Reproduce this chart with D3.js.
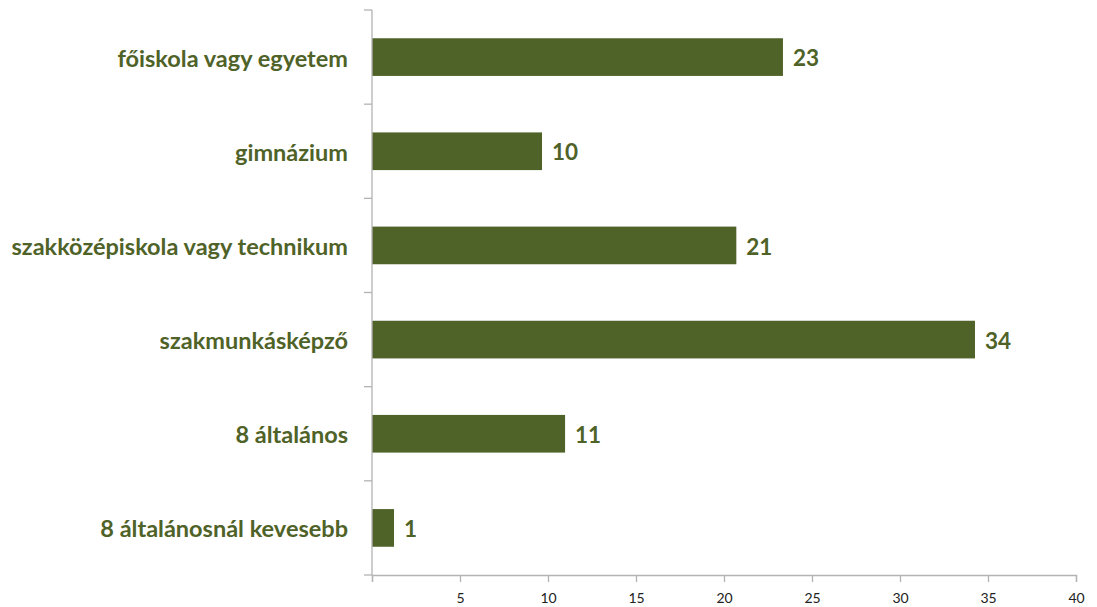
<!DOCTYPE html>
<html>
<head>
<meta charset="utf-8">
<script src="https://cdn.jsdelivr.net/npm/d3@7"></script>
<style>
  body { margin: 0; background: #fff; }
  svg { display: block; }
</style>
</head>
<body>
<div id="chart"></div>
<script>
const categories = ["főiskola vagy egyetem", "gimnázium", "szakközépiskola vagy technikum",
                    "szakmunkásképző", "8 általános", "8 általánosnál kevesebb"];
const values = [23.35, 9.66, 20.7, 34.26, 10.97, 1.25];
const xTicks = [5, 10, 15, 20, 25, 30, 35, 40];

const W = 1097, H = 607;
const margin = {top: 10, right: 21, bottom: 32, left: 372};
const width = W - margin.left - margin.right;
const height = H - margin.top - margin.bottom;
const green = "#4f6228";

const svg = d3.select("#chart").append("svg")
    .attr("width", W)
    .attr("height", H);

const g = svg.append("g")
    .attr("transform", `translate(${margin.left},${margin.top})`);

const x = d3.scaleLinear().domain([0, 40]).range([0, width]);
const y = d3.scaleBand().domain(categories).range([0, height]).paddingInner(0.6).paddingOuter(0.3);

// bars
g.selectAll("rect.bar")
  .data(categories)
  .enter().append("rect")
    .attr("class", "bar")
    .attr("x", 0)
    .attr("y", d => y(d))
    .attr("width", (d, i) => x(values[i]))
    .attr("height", y.bandwidth())
    .attr("fill", green);

// value labels
g.selectAll("text.val")
  .data(categories)
  .enter().append("text")
    .attr("class", "val")
    .attr("x", (d, i) => x(values[i]) + 10)
    .attr("y", d => y(d) + y.bandwidth() / 2 + 1)
    .attr("dy", "0.36em")
    .attr("font-family", "Lato, 'Open Sans', sans-serif")
    .attr("font-weight", "bold")
    .attr("font-size", 22.5)
    .attr("fill", green)
    .text((d, i) => d3.format(".0f")(values[i]));

// category boundaries for y ticks
const step = height / categories.length;
const yAxisG = g.append("g");
yAxisG.append("line")
    .attr("x1", 0).attr("x2", 0).attr("y1", 0).attr("y2", height)
    .attr("stroke", "#b3b3b3").attr("stroke-width", 1.3);
yAxisG.selectAll("line.tk")
  .data(d3.range(categories.length + 1))
  .enter().append("line")
    .attr("class", "tk")
    .attr("x1", -8).attr("x2", 0)
    .attr("y1", i => i * step).attr("y2", i => i * step)
    .attr("stroke", "#b3b3b3").attr("stroke-width", 1.3);

// category labels
g.selectAll("text.cat")
  .data(categories)
  .enter().append("text")
    .attr("class", "cat")
    .attr("x", -24)
    .attr("y", d => y(d) + y.bandwidth() / 2 + 1)
    .attr("dy", "0.36em")
    .attr("text-anchor", "end")
    .attr("font-family", "Lato, 'Open Sans', sans-serif")
    .attr("font-weight", "bold")
    .attr("font-size", 23.5)
    .attr("fill", green)
    .text(d => d);

// x axis
const xAxis = g.append("g")
    .attr("transform", `translate(0,${height})`)
    .call(d3.axisBottom(x).tickValues([0].concat(xTicks)).tickSize(7).tickPadding(11)
        .tickFormat(d => d === 0 ? "" : d));
xAxis.select(".domain").attr("stroke", "#b3b3b3").attr("stroke-width", 1.3);
xAxis.selectAll(".tick line").attr("stroke", "#b3b3b3").attr("stroke-width", 1.3);
xAxis.selectAll(".tick text")
    .attr("font-family", "Lato, 'Open Sans', sans-serif")
    .attr("font-size", 14)
    .attr("fill", "#222");
</script>
</body>
</html>
